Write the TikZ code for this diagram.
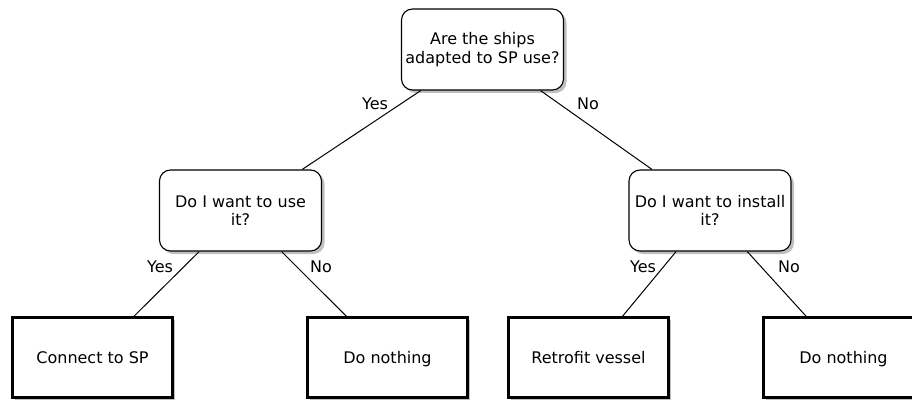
\documentclass[tikz,border=0pt]{standalone}
\usepackage{fontspec}
\setmainfont{DejaVu Sans}
\usetikzlibrary{shadows}
\begin{document}
\begin{tikzpicture}[x=1pt,y=-1pt,
  every node/.style={font=\fontsize{16}{18.5}\selectfont},
  decision/.style={draw, line width=1.1pt, rounded corners=11pt, fill=white,
    minimum width=162pt, minimum height=81pt, inner sep=0pt, align=center,
    drop shadow={shadow xshift=3pt, shadow yshift=-3pt, fill=black!25, opacity=1}},
  outcome/.style={draw, line width=2.2pt, fill=white,
    minimum width=160pt, minimum height=80pt, inner sep=0pt, align=center,
    text height=13pt, text depth=1pt,
    drop shadow={shadow xshift=2.5pt, shadow yshift=-2.5pt, fill=black!25, opacity=1}},
  conn/.style={draw, line width=1pt},
  lbl/.style={inner sep=0pt, text height=13pt, text depth=1pt}]
\useasboundingbox (0,0) rectangle (912,401);
\node[decision] (q1) at (482.5,49.5) {Are the ships\\adapted to SP use?};
\node[decision] (q2) at (240.5,210.5) {Do I want to use\\it?};
\node[decision] (q3) at (710,210.5) {Do I want to install\\it?};
\node[outcome] (a1) at (92.5,357.5) {Connect to SP};
\node[outcome] (a2) at (387.5,357.5) {Do nothing};
\node[outcome] (a3) at (588.5,357.5) {Retrofit vessel};
\node[outcome] (a4) at (843.5,357.5) {Do nothing};
\draw[conn] (q1) -- (q2);
\draw[conn] (q1) -- (q3);
\draw[conn] (q2) -- (a1);
\draw[conn] (q2) -- (a2);
\draw[conn] (q3) -- (a3);
\draw[conn] (q3) -- (a4);
\node[lbl] (l1) at (375,104) {Yes};
\node[lbl] (l2) at (588,104) {No};
\node[lbl] (l3) at (160,266) {Yes};
\node[lbl] (l4) at (321,266) {No};
\node[lbl] (l5) at (643,266) {Yes};
\node[lbl] (l6) at (789,266) {No};
\end{tikzpicture}
\end{document}
